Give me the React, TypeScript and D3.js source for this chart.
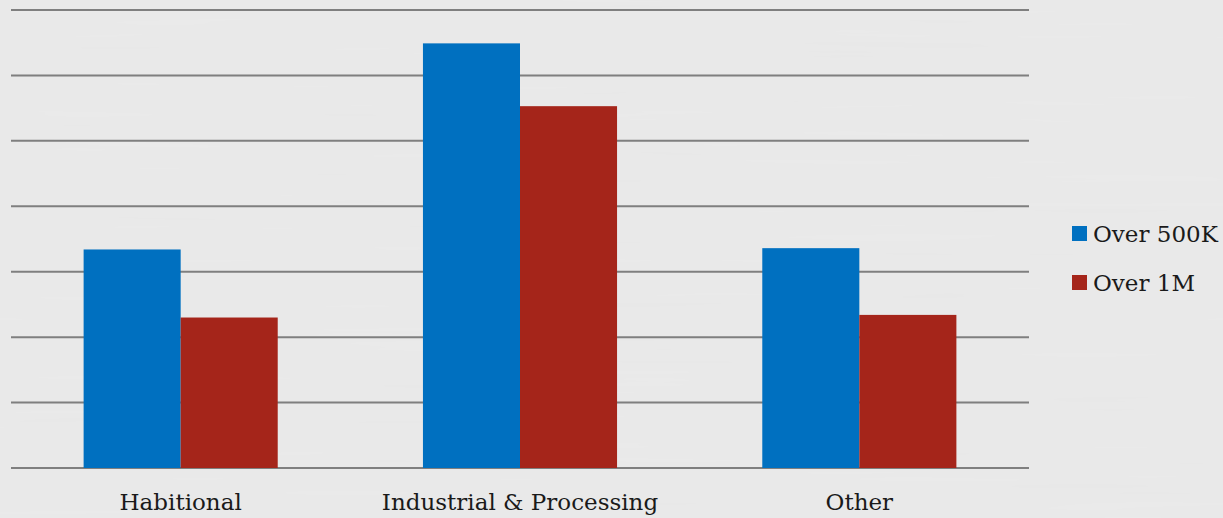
import React from "react";
import * as d3 from "d3";

const categories = ["Habitional", "Industrial & Processing", "Other"];
const seriesNames = ["Over 500K", "Over 1M"];
const over500K = [3.34, 6.49, 3.36];
const over1M = [2.3, 5.53, 2.34];
const gridTicks = [0, 1, 2, 3, 4, 5, 6, 7];
const colors = ["#0070c0", "#a5251a"];

const W = 1223;
const H = 518;
const FONT = "'DejaVu Serif', serif";

export default function App() {
  const x = d3
    .scaleBand<string>()
    .domain(categories)
    .range([11, 1029])
    .paddingInner(0.428)
    .paddingOuter(0.214);
  const xs = d3
    .scaleBand<string>()
    .domain(seriesNames)
    .range([0, x.bandwidth()])
    .padding(0);
  const y = d3.scaleLinear().domain([0, 7]).range([468, 10]);
  const series = [over500K, over1M];

  return (
    <svg
      width={W}
      height={H}
      style={{ position: "absolute", left: 0, top: 0, display: "block" }}
    >
      <defs>
        <filter id="paper" x="0" y="0" width="100%" height="100%">
          <feTurbulence
            type="fractalNoise"
            baseFrequency="0.004 0.12"
            numOctaves={2}
            seed={3}
          />
          <feColorMatrix
            type="matrix"
            values="0 0 0 0 1  0 0 0 0 1  0 0 0 0 1  0 0 0 0.09 0"
          />
        </filter>
      </defs>
      <rect x={0} y={0} width={W} height={H} fill="#e8e8e8" />
      <rect x={0} y={0} width={W} height={H} filter="url(#paper)" />
      {gridTicks.map((t) => (
        <line
          key={t}
          x1={11}
          x2={1029}
          y1={y(t)}
          y2={y(t)}
          stroke="#7f7f7f"
          strokeWidth={2}
        />
      ))}
      {categories.map((c, i) => (
        <g key={c} transform={`translate(${x(c)},0)`}>
          {seriesNames.map((s, j) => (
            <rect
              key={s}
              x={xs(s)}
              y={y(series[j][i])}
              width={xs.bandwidth()}
              height={y(0) - y(series[j][i])}
              fill={colors[j]}
            />
          ))}
        </g>
      ))}
      {categories.map((c) => (
        <text
          key={c}
          x={(x(c) as number) + x.bandwidth() / 2}
          y={509.5}
          textAnchor="middle"
          fontFamily={FONT}
          fontSize={23}
          fill="#1a1a1a"
        >
          {c}
        </text>
      ))}
      {seriesNames.map((s, j) => (
        <g key={s} transform={`translate(1072,${226 + j * 49})`}>
          <rect x={0} y={0} width={15} height={15} fill={colors[j]} />
          <text
            x={21}
            y={16}
            fontFamily={FONT}
            fontSize={23}
            fill="#1a1a1a"
          >
            {s}
          </text>
        </g>
      ))}
    </svg>
  );
}
